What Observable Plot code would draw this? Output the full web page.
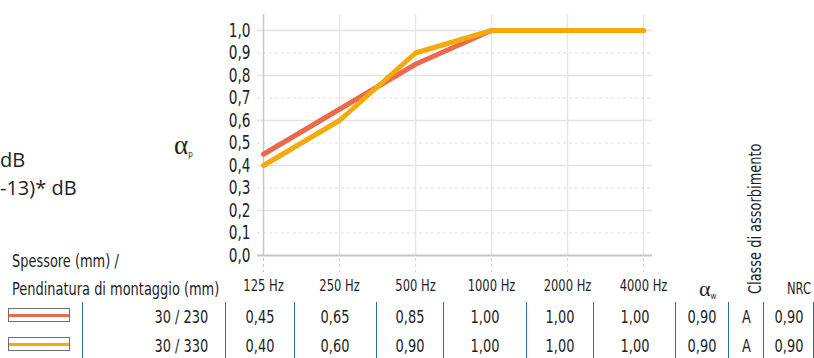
<!DOCTYPE html>
<html><head><meta charset="utf-8">
<script src="https://cdn.jsdelivr.net/npm/d3@7"></script>
<script src="https://cdn.jsdelivr.net/npm/@observablehq/plot@0.6"></script>
<style>
body{margin:0;background:#fff;}
#wrap{position:relative;width:814px;height:358px;overflow:hidden;background:#fff;
  font-family:"DejaVu Sans Condensed","Liberation Sans Narrow","Roboto Condensed","DejaVu Sans",sans-serif;font-stretch:condensed;color:#1e1e1e;}
#wrap svg{position:absolute;left:0;top:0;}
.abs{position:absolute;white-space:nowrap;line-height:1;}
.side{font-family:"Open Sans","Noto Sans",sans-serif;font-stretch:normal;font-size:20px;color:#222;}
.alpha{font-family:"Liberation Serif","DejaVu Serif",serif;font-stretch:normal;}
.alpha sub{font-family:"DejaVu Sans Condensed","DejaVu Sans",sans-serif;font-stretch:condensed;font-size:8px;vertical-align:-3px;}
.hdr{font-size:18px;transform-origin:0 0;}
.sq{display:inline-block;transform:scaleX(0.8);}
#tbl{position:absolute;left:82px;top:302px;border-collapse:collapse;table-layout:fixed;font-size:18px;}
#tbl td{height:29px;padding:0;text-align:center;border-left:1.5px solid #2a70a0;border-right:1.5px solid #2a70a0;}
#tbl tr:first-child td{border-top:2px solid #1d6592;border-bottom:2px solid #5b97c0;}
#tbl td.lbl{text-align:right;padding-right:16px;}
#tbl td.lbl .sq{transform-origin:100% 50%;}
.sw{position:absolute;left:8px;width:60px;height:12px;border:1.5px solid #707070;background:#fff;}
.sw div{position:absolute;left:0;right:0;top:4.5px;height:3px;}
</style></head><body><div id="wrap"></div>
<script>
// ---- data ----
const frequencies = ["125 Hz", "250 Hz", "500 Hz", "1000 Hz", "2000 Hz", "4000 Hz"];
const seriesLabels = ["30 / 230", "30 / 330"];
const series230 = [0.45, 0.65, 0.85, 1.00, 1.00, 1.00];
const series330 = [0.40, 0.60, 0.90, 1.00, 1.00, 1.00];
const alphaW = [0.90, 0.90];
const absorptionClass = ["A", "A"];
const nrcValues = [0.90, 0.90];
const yTicks = [0, 0.1, 0.2, 0.3, 0.4, 0.5, 0.6, 0.7, 0.8, 0.9, 1.0];
const seriesColors = ["#EA6A4B", "#F5AA0C"];

const seriesValues = [series230, series330];
const rows = [];
seriesValues.forEach((vals, s) => vals.forEach((v, i) => rows.push({freq: frequencies[i], value: v, series: seriesLabels[s]})));
const comma = (v, d) => v.toFixed(d).replace(".", ",");
const fontCond = `"DejaVu Sans Condensed","Liberation Sans Narrow","Roboto Condensed","DejaVu Sans",sans-serif`;

const majorY = yTicks.filter((t, i) => i % 2 === 0 && t > 0);
const minorY = yTicks.filter((t, i) => i % 2 === 1);

const chart = Plot.plot({
  width: 814, height: 358,
  marginLeft: 263, marginRight: 171, marginTop: 30, marginBottom: 103,
  x: {type: "point", domain: frequencies, padding: 0, axis: null, label: null},
  y: {domain: [0, 1], axis: null, label: null},
  color: {domain: seriesLabels, range: seriesColors},
  style: {fontFamily: fontCond, fontStretch: "condensed", color: "#1e1e1e", background: "transparent"},
  marks: [
    Plot.ruleY(majorY, {y: d => d, stroke: "#e3e3e3", strokeWidth: 1.5, insetLeft: -6, insetRight: -9}),
    Plot.ruleY(minorY, {y: d => d, stroke: "#dedede", strokeWidth: 1.2, strokeDasharray: "3,3", insetLeft: -6, insetRight: -9}),
    Plot.ruleX(frequencies.slice(1), {x: d => d, stroke: "#e6e6e6", strokeWidth: 1.5, insetTop: -16}),
    Plot.ruleX(frequencies.slice(1), {x: d => d, stroke: "#d8d8d8", strokeWidth: 1.2, strokeDasharray: "3,3", insetTop: 228, insetBottom: -17}),
    Plot.ruleX(frequencies.slice(0, 1), {x: d => d, stroke: "#c9c9c9", strokeWidth: 1.5, insetTop: -16}),
    Plot.ruleX(frequencies.slice(0, 1), {x: d => d, stroke: "#c9c9c9", strokeWidth: 1.2, strokeDasharray: "3,3", insetTop: 228, insetBottom: -17}),
    Plot.ruleY([0], {stroke: "#c6c6c6", strokeWidth: 2, insetLeft: -6, insetRight: -9}),
    Plot.line(rows, {x: "freq", y: "value", stroke: "series", z: "series", strokeWidth: 5, strokeLinejoin: "miter", strokeLinecap: "round"}),
    Plot.axisY({ticks: yTicks, tickFormat: d => comma(d, 1), tickSize: 0, tickPadding: 13, fontSize: 19, fill: "#1e1e1e", label: null}),
    Plot.axisX({tickSize: 0, tickPadding: 24, fontSize: 16, fill: "#1e1e1e", label: null})
  ]
});
const wrap = document.getElementById("wrap");
wrap.appendChild(chart);
// condense SVG axis labels to match the narrow typeface of the original
chart.querySelectorAll('g[aria-label$="tick label"] text').forEach(t => {
  const w = t.getComputedTextLength();
  t.setAttribute("textLength", (w * 0.8).toFixed(2));
  t.setAttribute("lengthAdjust", "spacingAndGlyphs");
});

function addDiv(html, cls, style) {
  const d = document.createElement("div");
  d.className = "abs " + cls;
  d.innerHTML = html;
  Object.assign(d.style, style);
  wrap.appendChild(d);
  return d;
}
// side texts
addDiv("dB", "side", {left: "0px", top: "150px"});
addDiv("-13)* dB", "side", {left: "0px", top: "178px"});
addDiv("α<sub>p</sub>", "alpha", {left: "174px", top: "132px", fontSize: "27px"});
// headers
addDiv("Spessore (mm) /", "hdr", {left: "12px", top: "252px", transform: "scaleX(0.8)"});
addDiv("Pendinatura di montaggio (mm)", "hdr", {left: "12px", top: "280px", transform: "scaleX(0.8)"});
addDiv("α<sub>w</sub>", "alpha", {left: "699px", top: "278px", fontSize: "22px"});
addDiv("NRC", "hdr", {left: "787px", top: "281px", fontSize: "16px", transform: "scaleX(0.8)"});
addDiv("Classe di assorbimento", "hdr", {left: "746px", top: "294px", transform: "rotate(-90deg) scaleX(0.8)"});

// table
const colW = [145, 70, 83, 68, 84, 68, 83, 53, 36, 50];
const tbl = document.createElement("table");
tbl.id = "tbl";
const cg = document.createElement("colgroup");
colW.forEach(w => { const c = document.createElement("col"); c.style.width = w + "px"; cg.appendChild(c); });
tbl.appendChild(cg);
seriesLabels.forEach((lab, s) => {
  const tr = document.createElement("tr");
  const cells = [lab, ...seriesValues[s].map(v => comma(v, 2)), comma(alphaW[s], 2), absorptionClass[s], comma(nrcValues[s], 2)];
  cells.forEach((c, j) => {
    const td = document.createElement("td");
    const sp = document.createElement("span");
    sp.className = "sq";
    sp.textContent = c;
    td.appendChild(sp);
    if (j === 0) td.className = "lbl";
    tr.appendChild(td);
  });
  tbl.appendChild(tr);
  const sw = document.createElement("div");
  sw.className = "sw";
  sw.style.top = (308 + s * 29) + "px";
  const ln = document.createElement("div");
  ln.style.background = seriesColors[s];
  sw.appendChild(ln);
  wrap.appendChild(sw);
});
wrap.appendChild(tbl);
</script>
</body></html>
